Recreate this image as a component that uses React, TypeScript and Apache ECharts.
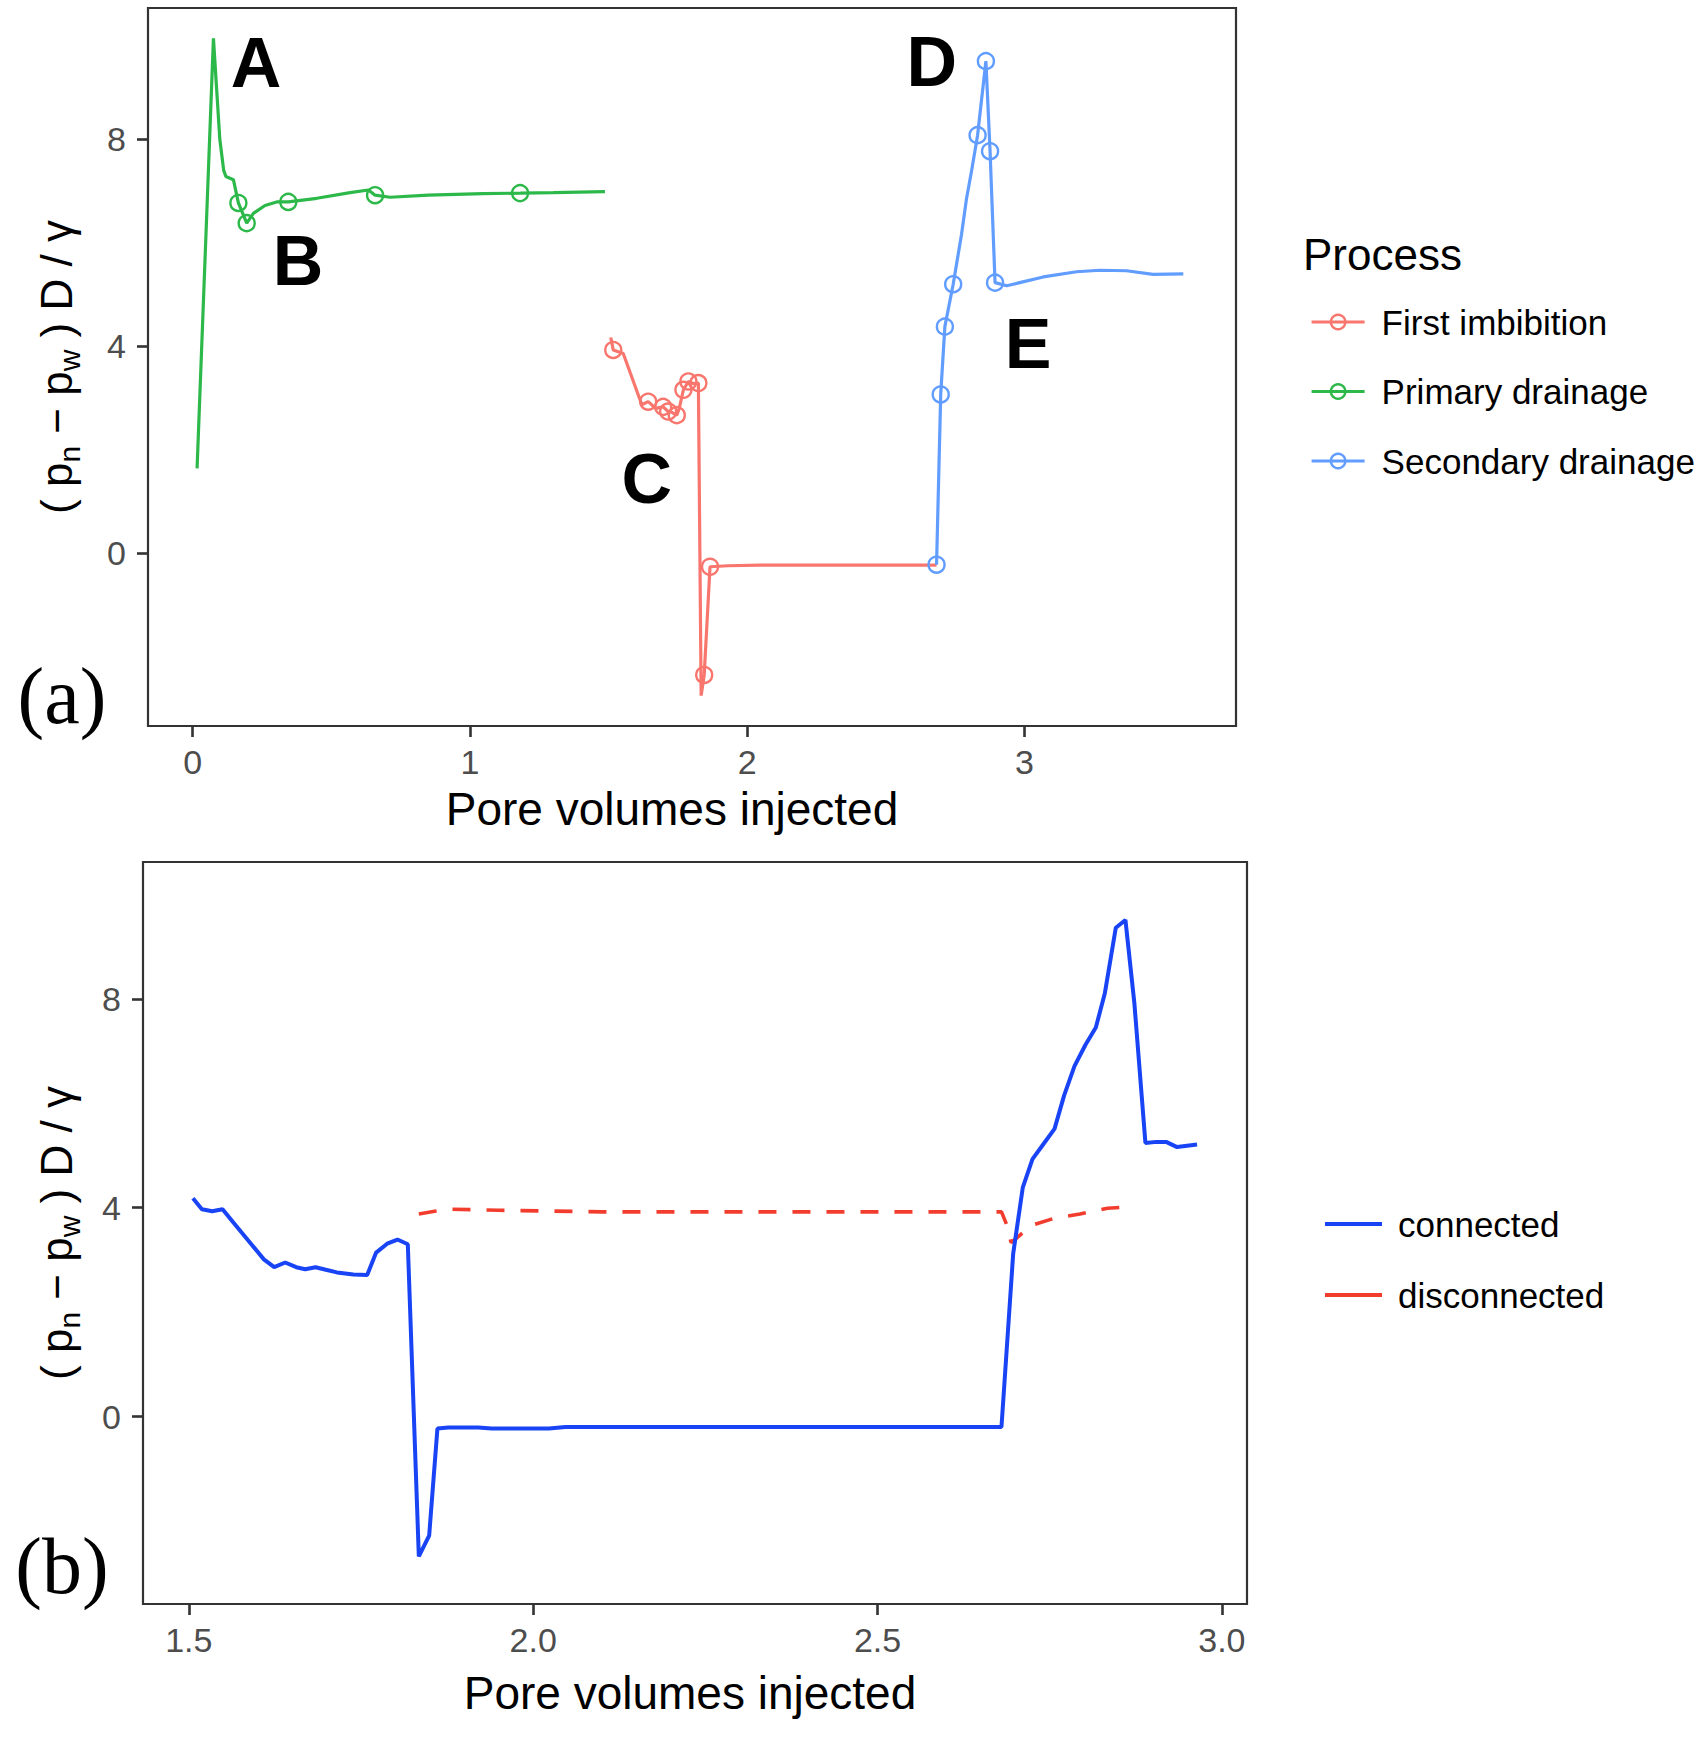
import React, { useEffect, useRef } from 'react';
import * as echarts from 'echarts';

// ---------- Panel (a) data ----------
const processNames = ['First imbibition', 'Primary drainage', 'Secondary drainage'];
const processColors = ['#F8766D', '#2DB84A', '#619CFF'];

const imbibitionX = [1.508, 1.517, 1.553, 1.620, 1.643, 1.670, 1.697, 1.715, 1.730, 1.746, 1.755, 1.770, 1.788, 1.805, 1.824, 1.834, 1.845, 1.866, 1.932, 2.046, 2.683];
const imbibitionY = [4.17, 3.93, 3.86, 2.87, 2.93, 2.80, 2.83, 2.74, 2.72, 2.67, 2.80, 3.16, 3.32, 3.28, 3.29, -2.75, -2.35, -0.26, -0.24, -0.23, -0.23];
const imbibitionMarks = [1, 4, 6, 7, 9, 11, 12, 14, 16, 17];

const primaryX = [0.016, 0.075, 0.098, 0.112, 0.120, 0.147, 0.165, 0.195, 0.219, 0.261, 0.303, 0.345, 0.448, 0.568, 0.634, 0.658, 0.712, 0.85, 1.048, 1.181, 1.30, 1.487];
const primaryY = [1.64, 9.95, 8.0, 7.4, 7.28, 7.22, 6.77, 6.38, 6.57, 6.72, 6.79, 6.79, 6.86, 6.97, 7.02, 6.92, 6.88, 6.92, 6.95, 6.96, 6.97, 6.99];
const primaryMarks = [6, 7, 11, 15, 19];

const secondaryX = [2.683, 2.698, 2.713, 2.743, 2.773, 2.791, 2.810, 2.831, 2.861, 2.876, 2.894, 2.936, 3.068, 3.188, 3.272, 3.368, 3.464, 3.573];
const secondaryY = [-0.22, 3.07, 4.38, 5.20, 6.16, 6.85, 7.41, 8.08, 9.51, 7.77, 5.23, 5.17, 5.34, 5.44, 5.47, 5.46, 5.39, 5.40];
const secondaryMarks = [0, 1, 2, 3, 7, 8, 9, 10];

const letters = ['A', 'B', 'C', 'D', 'E'];
const letterX = [0.229, 0.380, 1.638, 2.666, 3.013];
const letterY = [9.48, 5.65, 1.44, 9.49, 4.05];

const aXTicks = [0, 1, 2, 3];
const aYTicks = [0, 4, 8];

// ---------- Panel (b) data ----------
const stateNames = ['connected', 'disconnected'];
const stateColors = ['#1844F6', '#F23D2E'];

const connectedX = [1.506, 1.519, 1.534, 1.549, 1.565, 1.589, 1.609, 1.624, 1.640, 1.656, 1.669, 1.684, 1.699, 1.715, 1.739, 1.759, 1.772, 1.788, 1.803, 1.818, 1.834, 1.849, 1.861, 1.877, 1.920, 1.940, 2.023, 2.047, 2.680, 2.697, 2.711, 2.725, 2.741, 2.757, 2.771, 2.786, 2.802, 2.817, 2.830, 2.846, 2.860, 2.873, 2.889, 2.905, 2.919, 2.935, 2.964];
const connectedY = [4.18, 3.97, 3.93, 3.97, 3.71, 3.33, 3.01, 2.86, 2.95, 2.86, 2.82, 2.86, 2.81, 2.76, 2.72, 2.71, 3.14, 3.31, 3.39, 3.30, -2.68, -2.28, -0.23, -0.21, -0.21, -0.23, -0.23, -0.20, -0.20, 3.12, 4.39, 4.93, 5.22, 5.51, 6.15, 6.71, 7.12, 7.45, 8.10, 9.36, 9.51, 7.91, 5.24, 5.26, 5.26, 5.16, 5.21];

const disconnectedX = [1.834, 1.857, 1.881, 1.95, 2.10, 2.40, 2.680, 2.688, 2.694, 2.704, 2.723, 2.755, 2.794, 2.834, 2.870];
const disconnectedY = [3.88, 3.93, 3.97, 3.95, 3.92, 3.92, 3.92, 3.66, 3.33, 3.44, 3.66, 3.79, 3.88, 3.99, 4.02];

const bXTicks = [1.5, 2.0, 2.5, 3.0];
const bYTicks = [0, 4, 8];

// ---------- helpers ----------
const SANS = '"Liberation Sans", Arial, Helvetica, sans-serif';
const SERIF = '"Liberation Serif", "DejaVu Serif", "Times New Roman", serif';

const withMarks = (xs: number[], ys: number[], marks: number[]) =>
  xs.map((x, i) => (marks.indexOf(i) >= 0 ? { value: [x, ys[i]] } : { value: [x, ys[i]], symbol: 'none' }));

const pairs = (xs: number[], ys: number[]) => xs.map((x, i) => [x, ys[i]]);

const tickStyle = (ticks: number[]) => ({
  show: true,
  length: 11,
  lineStyle: { color: '#333333', width: 2.6 },
  customValues: ticks,
});

const xAxisBase = (grid: number, min: number, max: number, ticks: number[], fmt: (v: number) => string, gap: number, pad: number[]) => ({
  type: 'value',
  gridIndex: grid,
  min,
  max,
  axisLine: { show: false, onZero: false },
  splitLine: { show: false },
  axisTick: tickStyle(ticks),
  axisLabel: { customValues: ticks, formatter: fmt, fontSize: 34, color: '#4D4D4D', margin: 19, fontFamily: SANS },
  name: 'Pore volumes injected',
  nameLocation: 'middle',
  nameGap: gap,
  nameTextStyle: { fontSize: 46, color: '#000000', fontFamily: SANS, padding: pad },
});

const yAxisBase = (grid: number, min: number, max: number, ticks: number[]) => ({
  type: 'value',
  gridIndex: grid,
  min,
  max,
  axisLine: { show: false, onZero: false },
  splitLine: { show: false },
  axisTick: tickStyle(ticks),
  axisLabel: { customValues: ticks, formatter: (v: number) => String(v), fontSize: 34, color: '#4D4D4D', margin: 22, fontFamily: SANS },
});

const yTitle = (cx: number, cy: number) => ({
  type: 'text',
  x: cx,
  y: cy,
  rotation: Math.PI / 2,
  style: {
    text: '{m|( p}{s|n}{m| − p}{s|w}{m| ) D / γ}',
    align: 'center',
    verticalAlign: 'middle',
    fill: '#000000',
    rich: {
      m: { fontSize: 44, fontFamily: SANS, lineHeight: 56, fill: '#000000', verticalAlign: 'middle' },
      s: { fontSize: 30, fontFamily: SANS, lineHeight: 30, fill: '#000000', verticalAlign: 'bottom' },
    },
  },
});

export default function App() {
  const ref = useRef<HTMLDivElement>(null);

  useEffect(() => {
    if (!ref.current) return;
    const chart = echarts.init(ref.current, null, { renderer: 'svg' });

    const processSeries = [
      [imbibitionX, imbibitionY, imbibitionMarks],
      [primaryX, primaryY, primaryMarks],
      [secondaryX, secondaryY, secondaryMarks],
    ].map((d, k) => ({
      type: 'line',
      name: processNames[k],
      xAxisIndex: 0,
      yAxisIndex: 0,
      data: withMarks(d[0] as number[], d[1] as number[], d[2] as number[]),
      symbol: 'circle',
      symbolSize: 16,
      showSymbol: true,
      showAllSymbol: true,
      lineStyle: { color: processColors[k], width: 3.2 },
      itemStyle: { color: 'rgba(255,255,255,0)', borderColor: processColors[k], borderWidth: 2.4 },
      emphasis: { disabled: true },
      z: 3 + k,
    }));

    const letterSeries = {
      type: 'scatter',
      name: 'labels',
      xAxisIndex: 0,
      yAxisIndex: 0,
      data: letters.map((l, i) => ({ name: l, value: [letterX[i], letterY[i]] })),
      symbol: 'circle',
      symbolSize: 1,
      itemStyle: { color: 'rgba(0,0,0,0)', opacity: 1 },
      label: {
        show: true,
        position: 'inside',
        formatter: '{b}',
        fontSize: 70,
        fontWeight: 'bold',
        fontFamily: SANS,
        color: '#000000',
        opacity: 1,
        textBorderWidth: 0,
        textBorderColor: 'transparent',
      },
      emphasis: { disabled: true },
      z: 10,
    };

    const stateSeries = [
      [connectedX, connectedY],
      [disconnectedX, disconnectedY],
    ].map((d, k) => ({
      type: 'line',
      name: stateNames[k],
      xAxisIndex: 1,
      yAxisIndex: 1,
      data: pairs(d[0], d[1]),
      symbol: 'none',
      showSymbol: false,
      lineStyle: { color: stateColors[k], width: k === 0 ? 4 : 3.6, type: k === 0 ? 'solid' : [18, 16] },
      itemStyle: { color: stateColors[k] },
      emphasis: { disabled: true },
      z: 4 - k,
    }));

    chart.setOption({
      animation: false,
      backgroundColor: '#ffffff',
      grid: [
        { left: 148, top: 8, width: 1088, height: 718, show: true, borderColor: '#333333', borderWidth: 2.2, backgroundColor: 'transparent', containLabel: false },
        { left: 143, top: 862, width: 1104, height: 742, show: true, borderColor: '#333333', borderWidth: 2.2, backgroundColor: 'transparent', containLabel: false },
      ],
      xAxis: [
        xAxisBase(0, -0.161, 3.763, aXTicks, (v: number) => String(v), 60, [0, 40, 0, 0]),
        xAxisBase(1, 1.4335, 3.0365, bXTicks, (v: number) => v.toFixed(1), 66, [0, 10, 0, 0]),
      ],
      yAxis: [yAxisBase(0, -3.337, 10.537, aYTicks), yAxisBase(1, -3.59, 10.62, bYTicks)],
      legend: [
        {
          orient: 'vertical',
          left: 1310,
          top: 302,
          padding: 0,
          itemWidth: 53,
          itemHeight: 18,
          itemGap: 29.5,
          selectedMode: false,
          data: processNames,
          lineStyle: { width: 3.2 },
          itemStyle: { borderWidth: 2.4 },
          textStyle: { fontSize: 35, fontFamily: SANS, color: '#000000', lineHeight: 40, padding: [0, 0, 0, 12] },
        },
        {
          orient: 'vertical',
          left: 1325,
          top: 1204,
          padding: 0,
          itemWidth: 57,
          itemHeight: 4,
          itemGap: 31,
          icon: 'rect',
          selectedMode: false,
          data: stateNames,
          textStyle: { fontSize: 35, fontFamily: SANS, color: '#000000', lineHeight: 40, padding: [0, 0, 0, 11] },
        },
      ],
      graphic: [
        yTitle(56, 367),
        yTitle(56, 1233),
        {
          type: 'text',
          left: 1303,
          top: 232,
          style: { text: 'Process', fontSize: 44, fontFamily: SANS, fill: '#000000' },
        },
        {
          type: 'text',
          x: 62,
          y: 696,
          style: { text: '(a)', fontSize: 80, fontFamily: SERIF, fill: '#000000', align: 'center', verticalAlign: 'middle' },
        },
        {
          type: 'text',
          x: 62,
          y: 1566,
          style: { text: '(b)', fontSize: 80, fontFamily: SERIF, fill: '#000000', align: 'center', verticalAlign: 'middle' },
        },
      ],
      series: [...processSeries, letterSeries, ...stateSeries],
    });

    return () => chart.dispose();
  }, []);

  return (
    <div
      ref={ref}
      style={{ position: 'absolute', left: 0, top: 0, width: 1704, height: 1742, background: '#ffffff' }}
    />
  );
}
